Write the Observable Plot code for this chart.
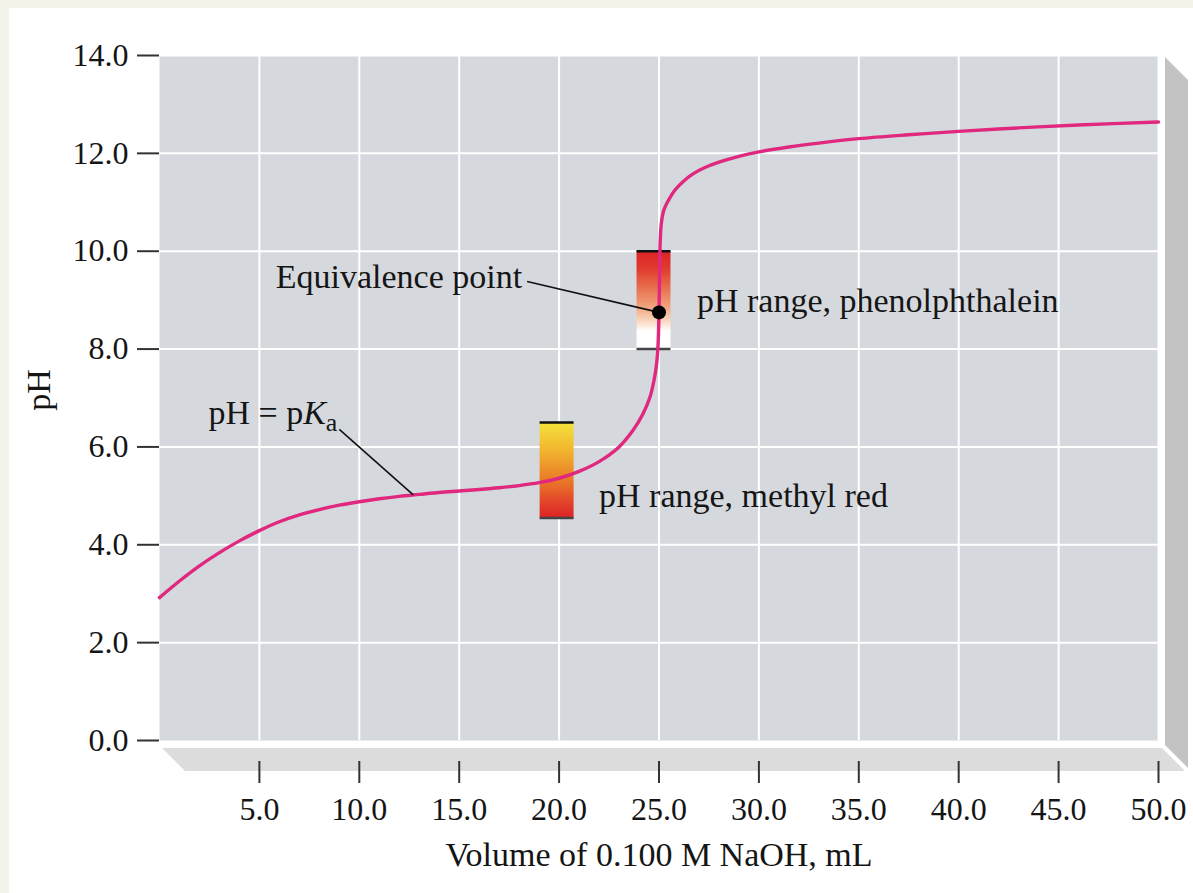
<!DOCTYPE html>
<html><head><meta charset="utf-8">
<script src="https://cdn.jsdelivr.net/npm/d3@7"></script>
<script src="https://cdn.jsdelivr.net/npm/@observablehq/plot@0.6"></script>
<style>
html,body{margin:0;padding:0;background:#fff;width:1193px;height:893px;overflow:hidden;}
#stripeTop{position:absolute;left:0;top:0;width:1193px;height:8px;background:#f3f3ea;}
#stripeLeft{position:absolute;left:0;top:0;width:9px;height:893px;background:#f3f3ea;}
#chart{position:absolute;left:0;top:0;}
</style></head>
<body>
<div id="stripeTop"></div><div id="stripeLeft"></div>
<div id="chart"></div>
<script>
// Titration curve: volume of NaOH (mL) vs pH
const volume = [0,1,2,3,4,5,6,7,8,9,10,11,12,13,14,15,16,17,18,19,20,21,22,23,23.7,24.2,24.55,24.75,24.88,24.95,25.0,25.03,25.06,25.12,25.25,25.5,25.8,26.2,26.7,27.3,28,29,30,31.5,33,35,37.5,40,43,46,50];
const pH = [2.92,3.26,3.57,3.84,4.08,4.29,4.47,4.61,4.72,4.81,4.88,4.94,4.99,5.03,5.07,5.10,5.13,5.165,5.21,5.27,5.36,5.50,5.70,6.00,6.34,6.68,7.02,7.36,7.70,8.06,8.75,9.6,10.2,10.58,10.85,11.06,11.25,11.42,11.58,11.71,11.82,11.94,12.03,12.13,12.21,12.30,12.38,12.45,12.52,12.58,12.64];

// Indicator ranges
const indicatorNames = ["methyl red", "phenolphthalein"];
const indicatorVolLo = [19.05, 23.9];
const indicatorVolHi = [20.75, 25.6];
const indicatorPHLo = [4.55, 8.0];
const indicatorPHHi = [6.5, 10.0];

// Key points
const eqVolume = [25.0];
const eqPH = [8.75];
const pkaVolume = [12.7];
const pkaPH = [5.02];

// Ticks
const xTicks = [5,10,15,20,25,30,35,40,45,50];
const yTicks = [0,2,4,6,8,10,12,14];

const xLabel = "Volume of 0.100 M NaOH, mL";
const yLabel = "pH";

const curve = volume.map((v, i) => ({volume: v, pH: pH[i]}));
const indicators = indicatorNames.map((n, i) => ({name: n, v1: indicatorVolLo[i], v2: indicatorVolHi[i], lo: indicatorPHLo[i], hi: indicatorPHHi[i]}));
const eq = [{volume: eqVolume[0], pH: eqPH[0]}];
const pka = [{volume: pkaVolume[0], pH: pkaPH[0]}];

const serif = "'Liberation Serif', 'Times New Roman', serif";
const fs = 34;

const plot = Plot.plot({
  width: 1193, height: 893,
  marginLeft: 159, marginRight: 35, marginTop: 55, marginBottom: 153,
  x: {domain: [0, 50]},
  y: {domain: [0, 14]},
  style: {fontFamily: serif, fontSize: "32px", color: "#151515", background: "transparent", overflow: "visible"},
  marks: [
    Plot.frame({fill: "#d5d9de", stroke: null}),
    Plot.gridX(xTicks, {stroke: "#fff", strokeOpacity: 1, strokeWidth: 2}),
    Plot.gridY(yTicks.filter(t => t > 0), {stroke: "#fff", strokeOpacity: 1, strokeWidth: 2}),
    Plot.axisY(yTicks, {tickSize: 22, tickPadding: 9, tickFormat: d => d.toFixed(1), label: null, strokeWidth: 2, stroke: "#333"}),
    Plot.axisX(xTicks, {tickSize: 22, tickPadding: 14, dy: 21, tickFormat: d => d.toFixed(1), label: null, strokeWidth: 2, stroke: "#333"}),
    Plot.rect([indicators[0]], {x1: "v1", x2: "v2", y1: "lo", y2: "hi", fill: "url(#gradMR)"}),
    Plot.rect([indicators[1]], {x1: "v1", x2: "v2", y1: "lo", y2: "hi", fill: "url(#gradPP)"}),
    Plot.ruleY(indicators, {x1: "v1", x2: "v2", y: "hi", stroke: "#111", strokeWidth: 2.5}),
    Plot.ruleY(indicators, {x1: "v1", x2: "v2", y: "lo", stroke: "#444", strokeWidth: 2.5}),
    Plot.line(curve, {x: "volume", y: "pH", stroke: "#e0287f", strokeWidth: 3.4, curve: "catmull-rom"}),
    Plot.link(eq, {x1: 18.4, y1: 9.38, x2: "volume", y2: "pH", stroke: "#111", strokeWidth: 1.6}),
    Plot.link(pka, {x1: 9.0, y1: 6.36, x2: "volume", y2: "pH", stroke: "#111", strokeWidth: 1.6}),
    Plot.dot(eq, {x: "volume", y: "pH", r: 7, fill: "#000"}),
    Plot.text(["Equivalence point"], {x: 18.15, y: 9.47, textAnchor: "end", fontSize: fs}),
    Plot.text(["pH range, phenolphthalein"], {x: 26.9, y: 8.98, textAnchor: "start", fontSize: fs}),
    Plot.text(["pH range, methyl red"], {x: 22.0, y: 5.0, textAnchor: "start", fontSize: fs}),
    Plot.text(["pH = pKa"], {x: 2.45, y: 6.69, textAnchor: "start", fontSize: fs}),
    Plot.text([yLabel], {frameAnchor: "left", textAnchor: "middle", lineAnchor: "middle", dx: -120, dy: -8, rotate: -90, fontSize: fs}),
    Plot.text([xLabel], {frameAnchor: "bottom", textAnchor: "middle", lineAnchor: "middle", dy: 115, fontSize: fs})
  ]
});

document.getElementById("chart").appendChild(plot);

const svg = d3.select(plot);
const xs = plot.scale("x"), ys = plot.scale("y");
const L = xs.range[0], R = xs.range[1], B = ys.range[0], T = ys.range[1];

// gradients for indicator colour bars
const defs = svg.append("defs");
function grad(id, stops) {
  const g = defs.append("linearGradient").attr("id", id).attr("x1", 0).attr("y1", 0).attr("x2", 0).attr("y2", 1);
  stops.forEach(([o, c]) => g.append("stop").attr("offset", o).attr("stop-color", c));
}
grad("gradMR", [[0, "#f4e43c"], [0.3, "#f1b42f"], [0.6, "#ea7c27"], [0.85, "#e2422a"], [1, "#dc2426"]]);
grad("gradPP", [[0, "#dc2226"], [0.18, "#e03a2e"], [0.38, "#e8704e"], [0.56, "#f0a07a"], [0.68, "#f7caae"], [0.78, "#fdeee4"], [0.82, "#ffffff"], [1, "#ffffff"]]);

// 3D bevel around the plot area
const bevel = svg.insert("g", "g");
bevel.append("polygon")
  .attr("points", [[L + 3, B + 8], [R + 4, B + 8], [R + 27, B + 31], [L + 26, B + 31]].map(p => p.join(",")).join(" "))
  .attr("fill", "#dcdcdc");
bevel.append("polygon")
  .attr("points", [[R + 7, T + 2], [R + 30, T + 25], [R + 30, B + 28], [R + 7, B + 5]].map(p => p.join(",")).join(" "))
  .attr("fill", "#c3c3c3");

// pKa label with italic K and subscript a
svg.selectAll("text").filter(function() { return this.textContent === "pH = pKa"; }).each(function() {
  const t = d3.select(this);
  t.text("");
  t.append("tspan").text("pH = p");
  t.append("tspan").attr("font-style", "italic").text("K");
  t.append("tspan").attr("font-size", "26px").attr("dy", "7").text("a");
});
</script>
</body></html>
